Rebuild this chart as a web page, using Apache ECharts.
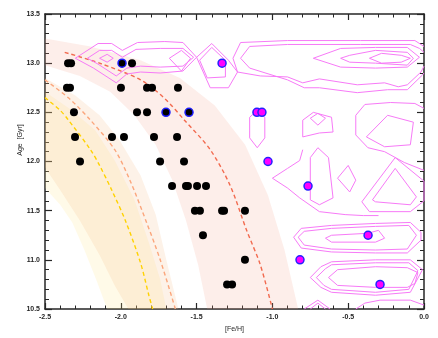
<!DOCTYPE html>
<html><head><meta charset="utf-8">
<script src="https://cdn.jsdelivr.net/npm/echarts/dist/echarts.min.js"></script>
<style>html,body{margin:0;padding:0;background:#fff}#c{width:438px;height:338px}</style>
</head><body><div id="c"></div>
<script>
// ---------- data ----------
const xRange = [-2.5, 0.0];
const yRange = [10.5, 13.5];

const starsBlack = [
  [-2.348,13.0],[-2.328,13.0],[-1.926,13.0],
  [-2.355,12.75],[-2.335,12.75],[-1.999,12.75],[-1.827,12.75],[-1.794,12.75],[-1.623,12.75],
  [-2.309,12.5],[-1.893,12.5],[-1.827,12.5],
  [-2.302,12.25],[-2.058,12.25],[-1.979,12.25],[-1.781,12.25],[-1.629,12.25],
  [-2.269,12.0],[-1.741,12.0],[-1.583,12.0],
  [-1.662,11.75],[-1.570,11.75],[-1.557,11.75],[-1.497,11.75],[-1.438,11.75],
  [-1.511,11.5],[-1.478,11.5],[-1.332,11.5],[-1.319,11.5],[-1.181,11.5],
  [-1.458,11.25],
  [-1.181,11.0],
  [-1.299,10.75],[-1.266,10.75]
];
const starsBlueEdge = [[-1.992,13.0],[-1.702,12.5],[-1.550,12.5]];
const starsMagenta = [[-1.332,13.0],[-1.102,12.5],[-1.069,12.5],[-1.029,12.0],[-0.765,11.75],[-0.369,11.25],[-0.818,11.0],[-0.290,10.75]];

const trackYellow = [[-2.5,12.65],[-2.40,12.52],[-2.35,12.43],[-2.20,12.12],[-2.14,11.96],[-2.06,11.71],[-1.97,11.40],[-1.87,10.97],[-1.815,10.64],[-1.79,10.50]];
const trackOrange = [[-2.5,12.83],[-2.34,12.64],[-2.20,12.42],[-2.04,12.12],[-1.94,11.81],[-1.83,11.38],[-1.74,11.00],[-1.64,10.50]];
const trackRed = [[-2.37,13.11],[-2.14,13.00],[-1.87,12.83],[-1.71,12.64],[-1.58,12.42],[-1.41,12.12],[-1.28,11.76],[-1.17,11.30],[-1.08,10.95],[-1.00,10.50]];

const bandRedUpper = [[-2.6,13.27],[-2.5,13.25],[-2.20,13.17],[-1.87,13.03],[-1.61,12.85],[-1.38,12.57],[-1.18,12.17],[-1.03,11.66],[-0.92,11.10],[-0.83,10.50],[-0.81,10.3]];
const bandRedLower = [[-2.6,13.0],[-2.5,12.98],[-2.27,12.87],[-2.07,12.71],[-1.91,12.47],[-1.77,12.17],[-1.66,11.81],[-1.57,11.40],[-1.49,10.95],[-1.43,10.50],[-1.41,10.3]];
const bandOrangeUpper = [[-2.6,12.95],[-2.5,12.85],[-2.30,12.67],[-2.14,12.47],[-2.01,12.22],[-1.87,11.86],[-1.77,11.46],[-1.70,11.00],[-1.62,10.50],[-1.60,10.3]];
const bandOrangeLower = [[-2.6,12.1],[-2.5,11.94],[-2.40,11.71],[-2.27,11.40],[-2.14,11.05],[-2.04,10.74],[-1.95,10.50],[-1.92,10.3]];
const bandYellowUpper = [[-2.6,12.82],[-2.5,12.71],[-2.34,12.54],[-2.17,12.32],[-2.04,12.01],[-1.91,11.61],[-1.81,11.15],[-1.74,10.80],[-1.70,10.50],[-1.68,10.3]];
const bandYellowLower = [[-2.6,11.85],[-2.5,11.73],[-2.40,11.56],[-2.32,11.38],[-2.24,11.10],[-2.16,10.79],[-2.09,10.50],[-2.07,10.3]];

const contourTopLeftOuter = [[-2.30,13.05],[-2.15,13.20],[-2.06,13.20],[-1.99,13.13],[-1.89,13.21],[-1.71,13.22],[-1.59,13.21],[-1.50,13.06],[-1.59,12.92],[-1.74,12.90],[-1.87,12.91],[-1.96,12.89],[-2.03,12.80],[-2.18,12.95],[-2.30,13.05]];
const contourTopLeftInner = [[-2.22,13.05],[-2.14,13.13],[-2.06,13.13],[-1.99,13.06],[-1.90,13.14],[-1.74,13.15],[-1.59,13.15],[-1.52,13.06],[-1.59,12.97],[-1.74,12.96],[-1.87,12.97],[-1.96,12.95],[-2.03,12.87],[-2.15,12.99],[-2.22,13.05]];
const contourTopSmall1 = [[-2.14,13.05],[-2.09,13.09],[-2.05,13.05],[-2.09,13.01],[-2.14,13.05]];
const contourTopSmall2 = [[-1.68,13.05],[-1.60,13.13],[-1.54,13.05],[-1.60,12.92],[-1.68,13.05]];
const contourTopMidOuter = [[-1.50,13.06],[-1.40,13.20],[-1.29,13.03],[-1.23,12.91],[-1.29,12.75],[-1.41,12.75],[-1.50,13.06]];
const contourTopMidInner = [[-1.48,13.03],[-1.40,13.16],[-1.31,13.03],[-1.31,12.86],[-1.43,12.85],[-1.48,13.03]];
const contourTopRightOuter = [[0,13.17],[-0.06,13.23],[-0.42,13.23],[-0.90,13.23],[-1.21,13.21],[-1.26,13.05],[-1.23,12.91],[-1.08,12.87],[-0.90,12.86],[-0.80,12.80],[-0.69,12.84],[-0.44,12.78],[-0.26,12.80],[-0.17,12.76],[-0.11,12.78],[-0.02,12.91],[0,12.97]];
const contourTopRightInner = [[0,13.11],[-0.03,13.15],[-0.09,13.19],[-0.42,13.19],[-0.90,13.19],[-1.15,13.17],[-1.21,13.05],[-1.15,12.95],[-0.90,12.83],[-0.79,12.75],[-0.69,12.75],[-0.44,12.70],[-0.24,12.73],[-0.11,12.73],[-0.01,12.88],[0,12.90]];
const contourLens1 = [[-0.73,13.05],[-0.55,13.15],[-0.32,13.16],[-0.11,13.16],[-0.03,13.06],[-0.11,12.96],[-0.32,12.95],[-0.55,12.96],[-0.73,13.05]];
const contourLens2 = [[-0.55,13.05],[-0.49,13.08],[-0.32,13.13],[-0.11,13.11],[-0.07,13.05],[-0.11,12.98],[-0.32,13.00],[-0.49,13.01],[-0.55,13.05]];
const contourLens3 = [[-0.36,13.05],[-0.28,13.10],[-0.15,13.08],[-0.09,13.05],[-0.15,13.01],[-0.28,13.00],[-0.36,13.05]];
const contourHex = [[-1.15,12.32],[-1.15,12.45],[-1.10,12.52],[-1.05,12.45],[-1.05,12.24],[-1.10,12.14],[-1.15,12.24],[-1.15,12.32]];
const contourMidA = [[-0.80,12.42],[-0.73,12.50],[-0.61,12.45],[-0.60,12.30],[-0.69,12.29],[-0.80,12.25],[-0.80,12.42]];
const contourMidDiamond = [[-0.75,12.44],[-0.70,12.49],[-0.65,12.44],[-0.70,12.37],[-0.75,12.44]];
const contourRightOuter = [[0,12.54],[-0.06,12.59],[-0.22,12.60],[-0.39,12.58],[-0.45,12.47],[-0.45,12.27],[-0.37,12.14],[-0.26,12.10],[-0.13,11.99],[0,11.91]];
const contourRightInner = [[-0.38,12.25],[-0.24,12.47],[-0.07,12.40],[-0.09,12.17],[-0.26,12.15],[-0.38,12.25]];
const contourDiamondE = [[-0.57,11.83],[-0.50,11.96],[-0.45,11.81],[-0.49,11.69],[-0.57,11.83]];
const contourTriangle = [[-0.34,11.61],[-0.19,11.93],[-0.05,11.64],[-0.09,11.56],[-0.32,11.59],[-0.34,11.61]];
const contourTriangleOuter = [[-0.41,11.59],[-0.19,12.04],[0,11.80],[0,11.60],[-0.09,11.49],[-0.36,11.49],[-0.41,11.59]];
const contourAroundStar = [[-0.75,12.04],[-0.70,12.14],[-0.63,12.04],[-0.60,11.63],[-0.69,11.56],[-0.75,11.61],[-0.75,12.04]];
const contourChevron = [[-0.80,12.12],[-0.82,12.01],[-0.90,11.93],[-1.00,11.83],[-0.90,11.73],[-0.82,11.63],[-0.69,11.49],[-0.52,11.46],[-0.40,11.45],[-0.30,11.45]];
const contourLowA1 = [[-0.86,11.23],[-0.81,11.32],[-0.61,11.35],[-0.32,11.37],[-0.09,11.38],[-0.02,11.28],[-0.02,11.20],[-0.11,11.07],[-0.32,11.07],[-0.61,11.08],[-0.81,11.12],[-0.86,11.23]];
const contourLowA2 = [[-0.83,11.23],[-0.79,11.29],[-0.61,11.32],[-0.32,11.34],[-0.10,11.35],[-0.05,11.25],[-0.11,11.11],[-0.32,11.10],[-0.61,11.11],[-0.79,11.15],[-0.83,11.23]];
const contourLowA3 = [[-0.65,11.22],[-0.61,11.25],[-0.37,11.27],[-0.30,11.30],[-0.26,11.22],[-0.32,11.18],[-0.61,11.18],[-0.65,11.22]];
const contourLowB1 = [[-0.75,10.82],[-0.68,10.93],[-0.61,10.98],[-0.32,11.00],[-0.09,11.00],[-0.01,10.90],[-0.09,10.67],[-0.32,10.64],[-0.61,10.67],[-0.68,10.72],[-0.75,10.82]];
const contourLowB2 = [[-0.71,10.82],[-0.65,10.91],[-0.61,10.95],[-0.32,10.97],[-0.10,10.97],[-0.04,10.89],[-0.10,10.70],[-0.32,10.67],[-0.61,10.70],[-0.66,10.74],[-0.71,10.82]];
const contourLowB3 = [[-0.63,10.82],[-0.57,10.90],[-0.32,10.93],[-0.11,10.92],[-0.04,10.87],[-0.06,10.76],[-0.11,10.72],[-0.32,10.72],[-0.57,10.74],[-0.63,10.82]];
const contourBottom1 = [[-0.79,10.50],[-0.70,10.59],[-0.62,10.50]];
const contourBottom2 = [[-0.75,10.50],[-0.70,10.56],[-0.65,10.50]];
const contourBottom3 = [[-0.45,10.50],[-0.39,10.56],[-0.29,10.59],[-0.09,10.59],[0,10.54]];

const contours = [contourTopLeftOuter, contourTopLeftInner, contourTopSmall1, contourTopSmall2,
  contourTopMidOuter, contourTopMidInner, contourTopRightOuter, contourTopRightInner,
  contourLens1, contourLens2, contourLens3, contourHex, contourMidA, contourMidDiamond,
  contourRightOuter, contourRightInner, contourDiamondE, contourTriangle, contourTriangleOuter,
  contourAroundStar, contourChevron, contourLowA1, contourLowA2, contourLowA3,
  contourLowB1, contourLowB2, contourLowB3, contourBottom1, contourBottom2, contourBottom3];

// ---------- chart ----------
const FONT = 'Liberation Sans';
const AX = '#262626';
function bandSeries(upper, lower, color) {
  const poly = upper.concat(lower.slice().reverse());
  return {
    type: 'custom', coordinateSystem: 'cartesian2d', clip: true, silent: true, z: 1,
    data: [[-1, 12]],
    renderItem: (params, api) => ({
      type: 'polygon',
      shape: { points: poly.map(p => api.coord(p)) },
      style: { fill: color }
    })
  };
}
function trackSeries(d, color) {
  return { type: 'line', data: d, smooth: 0.3, symbol: 'none', z: 2, silent: true,
    lineStyle: { color: color, width: 1.4, type: [4, 3] } };
}
function axisCommon(showLabel, isX) {
  return {
    type: 'value', min: isX ? xRange[0] : yRange[0], max: isX ? xRange[1] : yRange[1], interval: 0.5,
    axisLine: { show: true, onZero: false, lineStyle: { color: AX, width: 1.5 } },
    axisTick: { show: true, inside: true, length: isX ? 6 : 7, lineStyle: { color: AX, width: 1.2 } },
    minorTick: { show: true, splitNumber: 5, length: isX ? 3.5 : 4, lineStyle: { color: AX, width: 1 } },
    splitLine: { show: false },
    axisLabel: { show: showLabel, formatter: v => v.toFixed(1), fontFamily: FONT, fontSize: 7, fontWeight: 'bold', color: AX, margin: 5 }
  };
}
const series = [
  bandSeries(bandYellowUpper, bandYellowLower, 'rgba(255,228,125,0.18)'),
  bandSeries(bandOrangeUpper, bandOrangeLower, 'rgba(245,185,130,0.18)'),
  bandSeries(bandRedUpper, bandRedLower, 'rgba(245,160,140,0.18)'),
  trackSeries(trackYellow, '#ffd200'),
  trackSeries(trackOrange, '#fba67c'),
  trackSeries(trackRed, '#f26a4f')
];
contours.forEach(c => series.push({
  type: 'line', data: c, symbol: 'none', z: 3, silent: true,
  lineStyle: { color: '#f77af7', width: 1 }
}));
series.push({ type: 'scatter', data: starsBlack, symbol: 'circle', symbolSize: 8, z: 5,
  itemStyle: { color: '#000', opacity: 1 } });
series.push({ type: 'scatter', data: starsBlueEdge, symbol: 'circle', symbolSize: 8, z: 5,
  itemStyle: { color: '#000', borderColor: '#1c1cff', borderWidth: 1.5, opacity: 1 } });
series.push({ type: 'scatter', data: starsMagenta, symbol: 'circle', symbolSize: 8, z: 5,
  itemStyle: { color: '#ff00ff', borderColor: '#2222ff', borderWidth: 1.5, opacity: 1 } });

const chart = echarts.init(document.getElementById('c'), null, { renderer: 'canvas' });
chart.setOption({
  animation: false,
  backgroundColor: '#ffffff',
  grid: { left: 45, right: 14, top: 14, bottom: 29, containLabel: false },
  xAxis: [
    Object.assign(axisCommon(true, true), { position: 'bottom', name: '[Fe/H]', nameLocation: 'middle', nameGap: 14,
      nameTextStyle: { fontFamily: FONT, fontSize: 7, color: AX } }),
    Object.assign(axisCommon(false, true), { position: 'top' })
  ],
  yAxis: [
    Object.assign(axisCommon(true, false), { position: 'left' }),
    Object.assign(axisCommon(false, false), { position: 'right' })
  ],
  graphic: [{ type: 'text', x: 20, y: 140, rotation: Math.PI / 2,
    style: { text: 'Age  [Gyr]', font: '7px "Liberation Sans"', fill: AX, align: 'center', verticalAlign: 'middle' } }],
  series: series
});
</script></body></html>
